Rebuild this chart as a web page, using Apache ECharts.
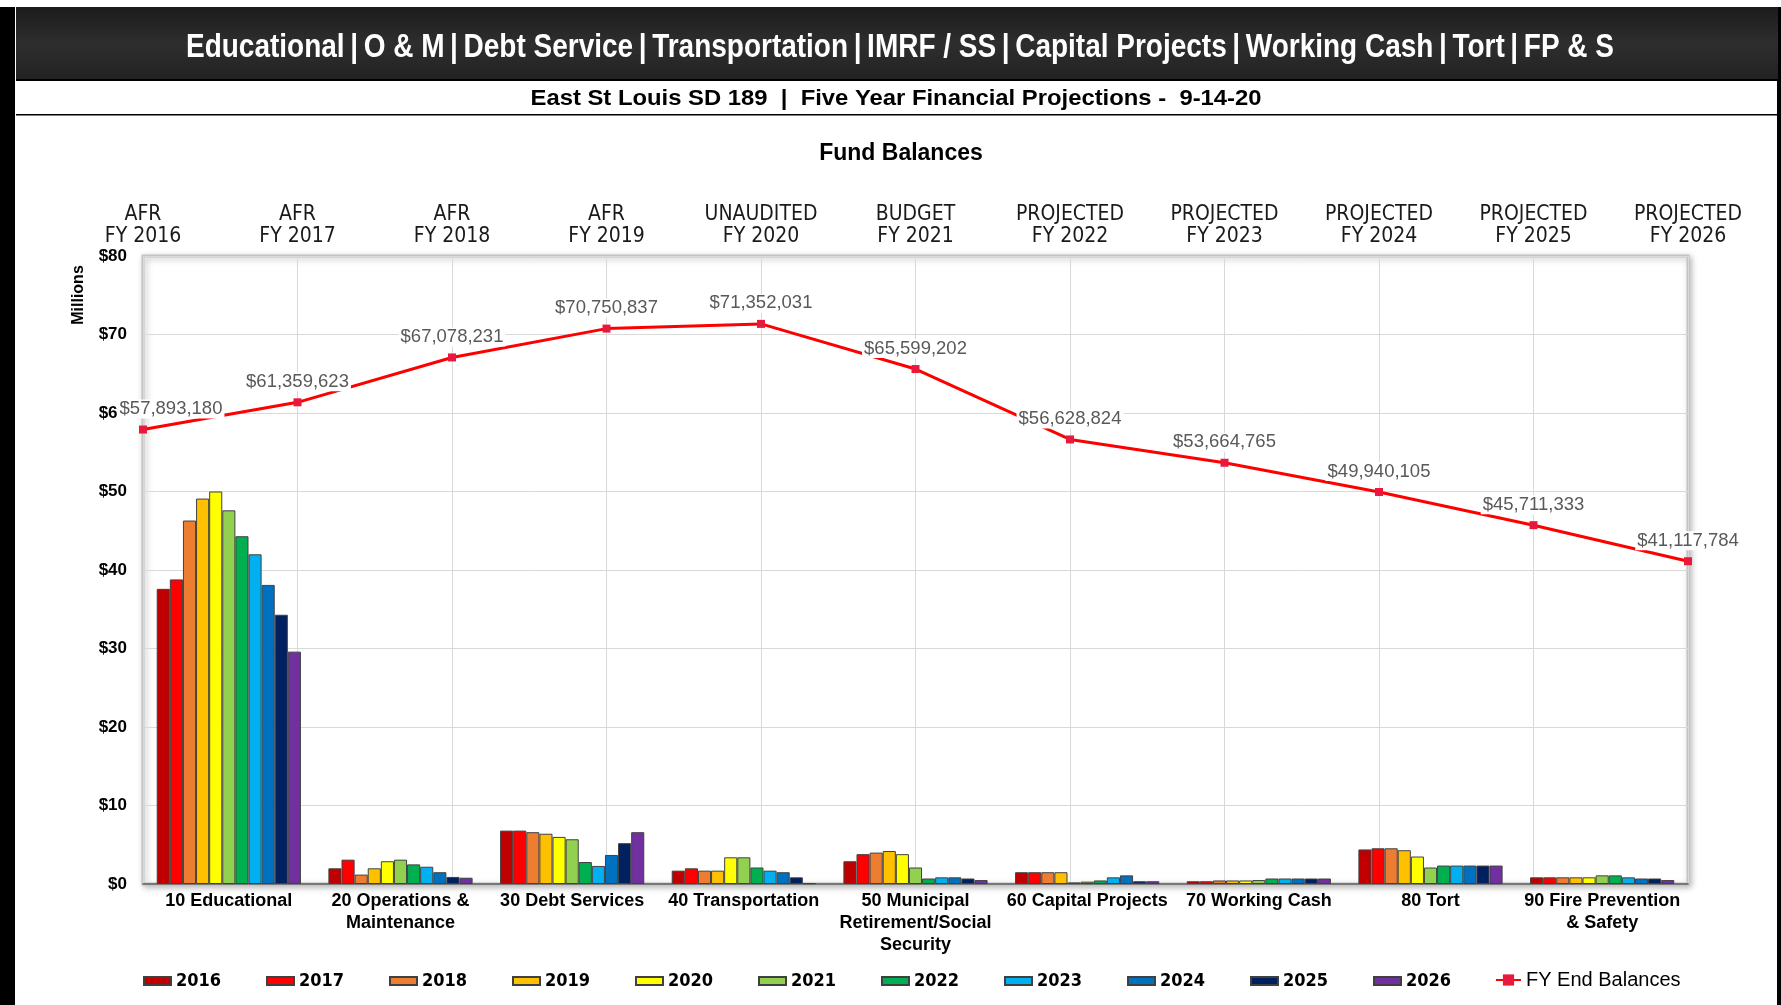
<!DOCTYPE html>
<html>
<head>
<meta charset="utf-8">
<script src="https://cdn.jsdelivr.net/npm/echarts@6/dist/echarts.min.js"></script>
<style>
html,body{margin:0;padding:0;background:#fff;}
#chart{width:1781px;height:1005px;}
</style>
</head>
<body>
<div id="chart"></div>
<script>
// ---------- DATA ----------
const fundCategories = ['10 Educational', '20 Operations &\nMaintenance', '30 Debt Services', '40 Transportation',
  '50 Municipal\nRetirement/Social\nSecurity', '60 Capital Projects', '70 Working Cash', '80 Tort', '90 Fire Prevention\n& Safety'];
const periodLabels = ['AFR\nFY 2016', 'AFR\nFY 2017', 'AFR\nFY 2018', 'AFR\nFY 2019', 'UNAUDITED\nFY 2020', 'BUDGET\nFY 2021',
  'PROJECTED\nFY 2022', 'PROJECTED\nFY 2023', 'PROJECTED\nFY 2024', 'PROJECTED\nFY 2025', 'PROJECTED\nFY 2026'];
const yearNames = ['2016', '2017', '2018', '2019', '2020', '2021', '2022', '2023', '2024', '2025', '2026'];
// fund balances in $ millions, per fiscal year, in fund order above
const fy2016 = [37.6, 2.0, 6.8, 1.7, 2.9, 1.5, 0.35, 4.4, 0.85];
const fy2017 = [38.8, 3.1, 6.8, 2.0, 3.8, 1.5, 0.35, 4.55, 0.85];
const fy2018 = [46.3, 1.2, 6.6, 1.7, 4.0, 1.5, 0.45, 4.55, 0.85];
const fy2019 = [49.1, 2.0, 6.4, 1.7, 4.2, 1.5, 0.45, 4.3, 0.85];
const fy2020 = [50.0, 2.9, 6.0, 3.4, 3.8, 0.2, 0.45, 3.5, 0.85];
const fy2021 = [47.6, 3.1, 5.7, 3.4, 2.1, 0.3, 0.5, 2.1, 1.1];
const fy2022 = [44.3, 2.5, 2.8, 2.1, 0.7, 0.45, 0.7, 2.35, 1.1];
const fy2023 = [42.0, 2.2, 2.3, 1.7, 0.85, 0.85, 0.7, 2.35, 0.85];
const fy2024 = [38.1, 1.5, 3.7, 1.5, 0.85, 1.1, 0.7, 2.35, 0.7];
const fy2025 = [34.3, 0.9, 5.2, 0.85, 0.7, 0.35, 0.7, 2.35, 0.7];
const fy2026 = [29.6, 0.8, 6.6, 0.1, 0.5, 0.35, 0.7, 2.35, 0.5];
const yearSeries = [fy2016, fy2017, fy2018, fy2019, fy2020, fy2021, fy2022, fy2023, fy2024, fy2025, fy2026];
// FY end balances in dollars
const fyEndBalances = [57893180, 61359623, 67078231, 70750837, 71352031, 65599202, 56628824, 53664765, 49940105, 45711333, 41117784];
const yTicks = { min: 0, max: 80, interval: 10 };

// ---------- STYLE ----------
const yearColors = ['#c00000', '#ff0000', '#ed7d31', '#ffc000', '#ffff00', '#92d050', '#00b050', '#00b0f0', '#0070c0', '#002060', '#7030a0'];
const CONDENSED = '"DejaVu Sans Condensed", "Liberation Sans", sans-serif';
const SANS = '"Liberation Sans", Arial, sans-serif';

const headerText = 'Educational\u2009|\u2009O & M\u2009|\u2009Debt Service\u2009|\u2009Transportation\u2009|\u2009IMRF / SS\u2009|\u2009Capital Projects\u2009|\u2009Working Cash\u2009|\u2009Tort\u2009|\u2009FP & S';
const subText = 'East St Louis SD 189  |  Five Year Financial Projections -  9-14-20';

// text measurement helper (narrow typeface emulation and legend spacing)
const mctx = document.createElement('canvas').getContext('2d');
function textWidth(font, text) { mctx.font = font; return mctx.measureText(text).width; }
function squeeze(font, text, target) { return target / textWidth(font, text); }
const headerFont = 'bold 34px ' + SANS;
const subFont = 'bold 22px ' + SANS;
const legendFontSize = 18;
const legendIconW = 27;
const legendPitch = 122;
const legendGap = legendPitch - legendIconW - 5 - textWidth('bold ' + legendFontSize + 'px ' + CONDENSED, '2016');

const chart = echarts.init(document.getElementById('chart'), null, { renderer: 'canvas' });

const barSeries = yearSeries.map((vals, i) => ({
  name: yearNames[i],
  type: 'bar',
  xAxisIndex: 0,
  yAxisIndex: 0,
  data: vals,
  barGap: '0%',
  barCategoryGap: '16%',
  itemStyle: { color: yearColors[i], borderColor: '#404040', borderWidth: 1 },
  emphasis: { disabled: true },
  z: 2
}));

const lineSeries = {
  name: 'FY End Balances',
  type: 'line',
  xAxisIndex: 1,
  yAxisIndex: 0,
  data: fyEndBalances.map((v, i) => (i === 0 ? { value: v / 1e6, label: { offset: [28, 0] } } : v / 1e6)),
  symbol: 'rect',
  symbolSize: 8,
  lineStyle: { color: '#ff0000', width: 3 },
  itemStyle: { color: '#e8193c' },
  label: {
    show: true,
    position: 'top',
    distance: 7,
    color: '#595959',
    fontFamily: SANS,
    fontSize: 18.5,
    backgroundColor: '#ffffff',
    padding: [0, 2],
    formatter: p => '$' + fyEndBalances[p.dataIndex].toLocaleString('en-US')
  },
  emphasis: { disabled: true },
  z: 5
};

const option = {
  backgroundColor: '#ffffff',
  animation: false,
  graphic: [
    { type: 'rect', shape: { x: 0, y: 7, width: 15, height: 998 }, style: { fill: '#000' }, z: 100 },
    { type: 'rect', shape: { x: 1777, y: 7, width: 4, height: 998 }, style: { fill: '#000' }, z: 100 },
    { type: 'rect', shape: { x: 16, y: 7, width: 1762, height: 73 },
      style: { fill: new echarts.graphic.LinearGradient(0, 0, 0, 1, [
        { offset: 0, color: '#1c1c1c' }, { offset: 0.5, color: '#2e2e2e' }, { offset: 1, color: '#222' }]) }, z: 100 },
    { type: 'rect', shape: { x: 16, y: 79, width: 1762, height: 2 }, style: { fill: '#000' }, z: 100 },
    { type: 'rect', shape: { x: 16, y: 114, width: 1762, height: 1.5 }, style: { fill: '#000' }, z: 100 },
    { type: 'text', x: 900, y: 48, z: 101, scaleX: squeeze(headerFont, headerText, 1428),
      style: { text: headerText, fill: '#ffffff', font: headerFont, textAlign: 'center', textVerticalAlign: 'middle' } },
    { type: 'text', x: 896, y: 99, z: 101, scaleX: squeeze(subFont, subText, 731),
      style: { text: subText, fill: '#000', font: subFont, textAlign: 'center', textVerticalAlign: 'middle' } },
    { type: 'text', x: 901, y: 154, z: 101,
      style: { text: 'Fund Balances', fill: '#000', font: 'bold 23px ' + SANS, textAlign: 'center', textVerticalAlign: 'middle' } },
    { type: 'text', x: 79, y: 295, rotation: Math.PI / 2, z: 101,
      style: { text: 'Millions', fill: '#000', font: 'bold 16px ' + SANS, textAlign: 'center', textVerticalAlign: 'middle' } }
  ],
  grid: {
    left: 143, right: 93, top: 256, bottom: 121,
    show: true, backgroundColor: '#fff',
    borderColor: '#c4c4c4', borderWidth: 3,
    shadowColor: 'rgba(0,0,0,0.25)', shadowBlur: 6, shadowOffsetX: 2, shadowOffsetY: 2
  },
  legend: [
    {
      data: yearNames,
      left: 138, top: 967,
      itemWidth: legendIconW, itemHeight: 8, itemGap: legendGap,
      icon: 'rect',
      textStyle: { fontFamily: CONDENSED, fontWeight: 'bold', fontSize: legendFontSize, color: '#000' }
    },
    {
      data: ['FY End Balances'],
      left: 1490, top: 965,
      itemWidth: 25, itemHeight: 14,
      textStyle: { fontFamily: SANS, fontSize: 20, color: '#000' }
    }
  ],
  xAxis: [
    {
      type: 'category', position: 'bottom', data: fundCategories, boundaryGap: true,
      axisLine: { show: true, lineStyle: { color: '#595959', width: 1.5 } },
      axisTick: { show: false },
      splitLine: { show: false },
      axisLabel: { color: '#000', fontFamily: SANS, fontWeight: 'bold', fontSize: 18, lineHeight: 22, margin: 6, interval: 0 }
    },
    {
      type: 'category', position: 'top', data: periodLabels, boundaryGap: false,
      axisLine: { show: false }, axisTick: { show: false },
      splitLine: { show: true, lineStyle: { color: '#d9d9d9', width: 1 } },
      axisLabel: { color: '#1a1a1a', fontFamily: CONDENSED, fontSize: 21, lineHeight: 22, margin: 8, interval: 0 }
    }
  ],
  yAxis: [{
    type: 'value', min: yTicks.min, max: yTicks.max, interval: yTicks.interval,
    axisLine: { show: false }, axisTick: { show: false },
    splitLine: { show: true, lineStyle: { color: '#d9d9d9', width: 1 } },
    axisLabel: { color: '#000', fontFamily: SANS, fontWeight: 'bold', fontSize: 17, margin: 16, formatter: v => '$' + v }
  }],
  series: [...barSeries, lineSeries]
};
chart.setOption(option);
</script>
</body>
</html>
